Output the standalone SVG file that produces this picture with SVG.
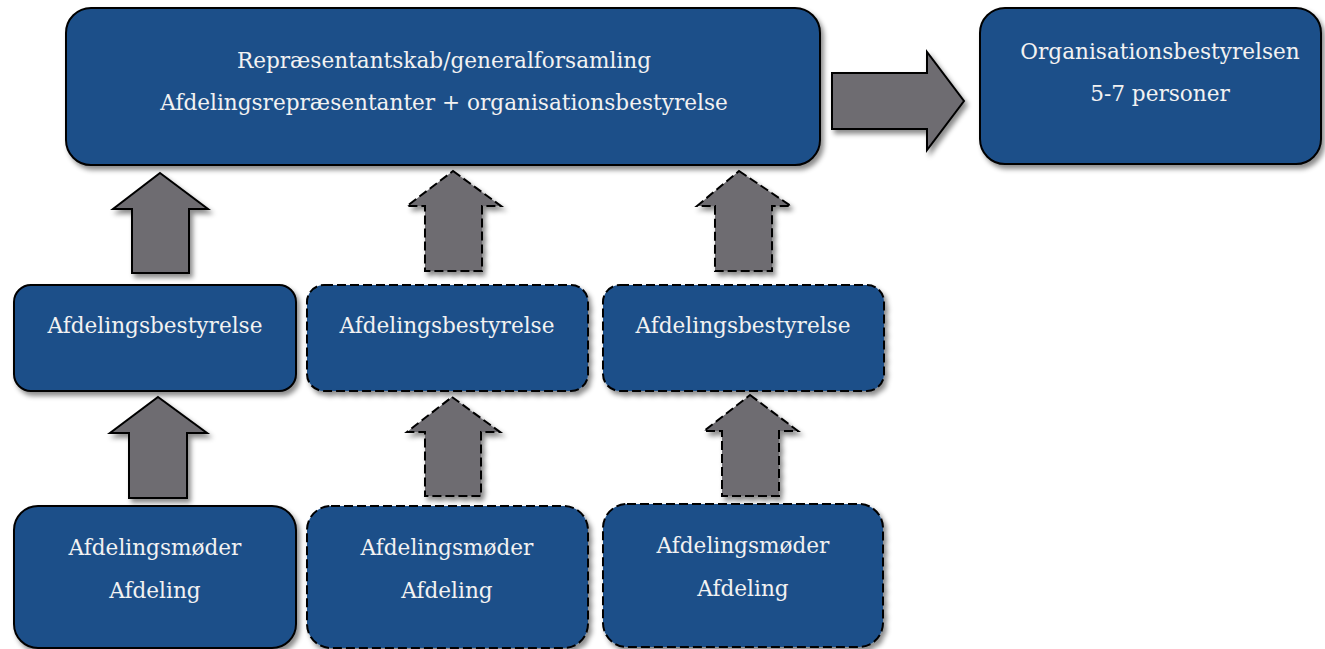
<svg xmlns="http://www.w3.org/2000/svg" width="1325" height="649" viewBox="0 0 1325 649">
<defs>
<filter id="sh" x="-10%" y="-10%" width="130%" height="130%">
<feDropShadow dx="3" dy="4" stdDeviation="2.5" flood-color="#000" flood-opacity="0.45"/>
</filter>
</defs>
<style>
.box{fill:#1F5089;stroke:#000;stroke-width:2;filter:url(#sh)}
.dash{stroke-dasharray:9 4}
.arr{fill:#6E6C71;stroke:#000;stroke-width:2;stroke-linejoin:miter;filter:url(#sh)}
.t{font-family:"DejaVu Serif","Liberation Serif",serif;font-size:21.6px;fill:#F2F2F2;text-anchor:middle}
</style>
<rect width="1325" height="649" fill="#fff"/>
<g id="connectors">
<polygon class="arr" points="832,73 927,73 927,52 964,101 927,150 927,129 832,129"/>
<polygon class="arr" points="160,173 208,209 189,209 189,273 132,273 132,209 113,209"/>
<polygon class="arr dash" points="453,171 501,206 482,206 482,271 425,271 425,206 407,206"/>
<polygon class="arr dash" points="739,171 791,206 772,206 772,271 715,271 715,206 697,206"/>
<polygon class="arr" points="158,397 207,433 187,433 187,498 129,498 129,433 110,433"/>
<polygon class="arr dash" points="452,397 500,432 481,432 481,496 425,496 425,432 407,432"/>
<polygon class="arr dash" points="750,395 798,431 779,431 779,496 722,496 722,431 704,431"/>
</g>
<g id="top">
<rect class="box" x="66" y="8" width="754" height="157" rx="25"/>
<text class="t" x="444" y="68">Repræsentantskab/generalforsamling</text>
<text class="t" x="444" y="110">Afdelingsrepræsentanter + organisationsbestyrelse</text>
</g>
<g id="org">
<rect class="box" x="980" y="8" width="341" height="156" rx="25"/>
<text class="t" x="1160" y="59">Organisationsbestyrelsen</text>
<text class="t" x="1160" y="101">5-7 personer</text>
</g>
<g id="best1">
<rect class="box" x="14" y="285" width="282" height="106" rx="17"/>
<text class="t" x="155" y="333">Afdelingsbestyrelse</text>
</g>
<g id="best2">
<rect class="box dash" x="307" y="285" width="281" height="106" rx="17"/>
<text class="t" x="447" y="333">Afdelingsbestyrelse</text>
</g>
<g id="best3">
<rect class="box dash" x="603" y="285" width="281" height="106" rx="17"/>
<text class="t" x="743" y="333">Afdelingsbestyrelse</text>
</g>
<g id="moede1">
<rect class="box" x="14" y="506" width="282" height="142" rx="24"/>
<text class="t" x="155" y="555">Afdelingsmøder</text>
<text class="t" x="155" y="598">Afdeling</text>
</g>
<g id="moede2">
<rect class="box dash" x="307" y="506" width="281" height="142" rx="24"/>
<text class="t" x="447" y="555">Afdelingsmøder</text>
<text class="t" x="447" y="598">Afdeling</text>
</g>
<g id="moede3">
<rect class="box dash" x="603" y="504" width="280" height="143" rx="24"/>
<text class="t" x="743" y="553">Afdelingsmøder</text>
<text class="t" x="743" y="596">Afdeling</text>
</g>
</svg>
